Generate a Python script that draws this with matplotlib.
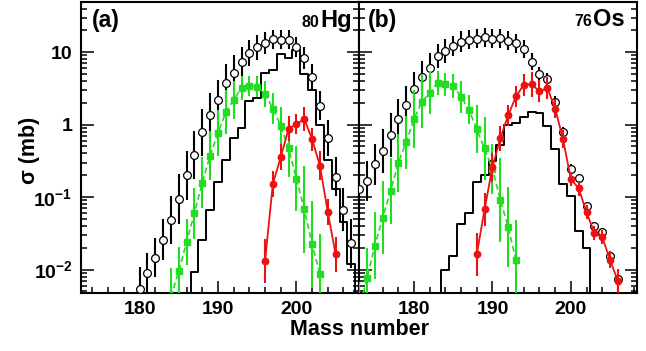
import numpy as np
import matplotlib
matplotlib.use('Agg')
import matplotlib.pyplot as plt
from matplotlib.ticker import MultipleLocator, LogLocator, NullFormatter

plt.rcParams['font.family'] = ['Liberation Sans', 'DejaVu Sans']
plt.rcParams['font.weight'] = 'bold'
plt.rcParams['mathtext.fontset'] = 'custom'
plt.rcParams['mathtext.bf'] = 'Liberation Sans:bold'
plt.rcParams['mathtext.rm'] = 'Liberation Sans:bold'

# ---- panel (a): 80Hg ----
hg_circ_mass = np.arange(180, 208)
hg_circ = [0.0054, 0.0089, 0.0146, 0.026, 0.048, 0.094, 0.20, 0.385, 0.78, 1.35,
           2.2, 3.75, 5.2, 7.4, 9.6, 11.6, 13.5, 15.0, 14.8, 14.8,
           11.8, 8.3, 4.6, 1.82, 0.66, 0.19, 0.067, 0.023]
hg_circ_err = [0.30, 0.28, 0.27, 0.28, 0.33, 0.34, 0.34, 0.33, 0.33, 0.31,
               0.27, 0.26, 0.25, 0.20, 0.18, 0.17, 0.15, 0.13, 0.13, 0.13,
               0.14, 0.15, 0.17, 0.20, 0.25, 0.27, 0.30, 0.34]

hg_green_mass = np.arange(184, 204)
hg_green = [0.0042, 0.0095, 0.024, 0.060, 0.158, 0.375, 0.76, 1.5, 2.2, 3.2,
            3.4, 3.35, 2.65, 1.66, 0.96, 0.47, 0.18, 0.068, 0.0225, 0.0086]
hg_green_err = [0.40, 0.33, 0.32, 0.35, 0.35, 0.34, 0.32, 0.30, 0.26, 0.16,
                0.14, 0.14, 0.18, 0.21, 0.26, 0.40, 0.45, 0.60, 0.60, 0.55]

hg_red_mass = np.arange(196, 206)
hg_red = [0.0131, 0.153, 0.355, 0.88, 1.01, 1.2, 0.63, 0.27, 0.062, 0.0162]
hg_red_err = [0.30, 0.18, 0.18, 0.17, 0.14, 0.17, 0.16, 0.20, 0.18, 0.24]

hg_hist_bins = np.arange(186, 209)
hg_hist = [0, 0.0094, 0.0255, 0.066, 0.16, 0.33, 0.65, 0.89, 2.1, 2.3,
           5.2, 5.6, 9.5, 8.4, 10.8, 5.0, 3.0, 1.0, 0.33, 0.13,
           0.046, 0.012, 0]

# ---- panel (b): 76Os ----
os_circ_mass = np.arange(173, 207)
os_circ = [0.128, 0.167, 0.284, 0.434, 0.72, 1.2, 1.89, 3.1, 4.5, 6.1,
           8.9, 10.4, 12.2, 14.0, 14.8, 15.3, 16.1, 15.3, 15.6, 14.3,
           13.3, 11.0, 7.4, 5.0, 4.2, 2.06, 0.78, 0.245, 0.182, 0.075,
           0.040, 0.033, 0.0154, 0.0075]
os_circ_err = [0.22, 0.28, 0.28, 0.30, 0.30, 0.28, 0.25, 0.23, 0.23, 0.21,
               0.17, 0.16, 0.14, 0.14, 0.13, 0.13, 0.13, 0.13, 0.13, 0.13,
               0.13, 0.12, 0.12, 0.10, 0.09, 0.08, 0.07, 0.07, 0.06, 0.06,
               0.06, 0.06, 0.07, 0.08]

os_green_mass = np.arange(173, 194)
os_green = [0.0027, 0.0076, 0.0214, 0.052, 0.121, 0.30, 0.57, 1.2, 2.08, 2.7,
            3.75, 3.62, 3.42, 2.44, 1.6, 0.86, 0.47, 0.244, 0.092, 0.039, 0.0135]
os_green_err = [0.40, 0.42, 0.46, 0.50, 0.46, 0.40, 0.37, 0.40, 0.37, 0.29,
                0.17, 0.16, 0.17, 0.22, 0.20, 0.33, 0.44, 0.35, 0.58, 0.55, 0.55]

os_red_mass = np.arange(188, 207)
os_red = [0.0162, 0.068, 0.26, 0.65, 1.34, 2.45, 3.55, 3.6, 2.88, 3.2,
          1.67, 0.63, 0.178, 0.132, 0.062, 0.032, 0.028, 0.0137, 0.0069]
os_red_err = [0.30, 0.23, 0.20, 0.17, 0.15, 0.15, 0.15, 0.17, 0.15, 0.15,
              0.13, 0.12, 0.10, 0.10, 0.10, 0.10, 0.10, 0.12, 0.17]

os_hist_bins = np.arange(183, 204)
os_hist = [0, 0.0098, 0.0155, 0.043, 0.061, 0.16, 0.205, 0.32, 0.52, 0.98,
           1.07, 1.29, 1.5, 1.47, 0.96, 0.46, 0.153, 0.102, 0.034, 0.0196, 0]

GREEN = '#22dd22'
RED = '#ee1111'


def dex_err(v, d):
    v = np.asarray(v, float)
    d = np.asarray(d, float)
    return [v - v / 10**d, v * 10**d - v]


def draw_panel(ax, circ_m, circ, circ_e, gr_m, gr, gr_e, rd_m, rd, rd_e, h_bins, h, xlim):
    # histogram (black steps)
    h = np.asarray(h, float)
    h = np.where(h > 0, h, 1e-6)
    edges = np.append(h_bins - 0.5, h_bins[-1] + 0.5)
    ax.step(edges, np.append(h, h[-1]), where='post', color='k', lw=1.4, zorder=2)

    # total (open circles)
    ax.errorbar(circ_m, circ, yerr=dex_err(circ, circ_e), fmt='o', ms=5.6, mfc='white',
                mec='k', mew=0.9, ecolor='k', elinewidth=1.5, capsize=0, zorder=3)
    # green squares, dashed
    ax.errorbar(gr_m, gr, yerr=dex_err(gr, gr_e), fmt='s', ls=(0, (3.5, 2)), lw=1.2,
                color=GREEN, ms=4.2, ecolor=GREEN, elinewidth=1.5, capsize=0, zorder=4)
    # red dots, solid
    ax.errorbar(rd_m, rd, yerr=dex_err(rd, rd_e), fmt='o-', lw=1.3, color=RED,
                ms=4.6, ecolor=RED, elinewidth=1.5, capsize=0, zorder=5)

    ax.set_yscale('log')
    ax.set_ylim(0.0048, 50)
    ax.set_xlim(*xlim)
    ax.xaxis.set_major_locator(MultipleLocator(10))
    ax.xaxis.set_minor_locator(MultipleLocator(2))
    ax.yaxis.set_minor_locator(LogLocator(base=10, subs=np.arange(2, 10)))
    ax.yaxis.set_minor_formatter(NullFormatter())
    ax.set_xticks([180, 190, 200])
    ax.set_xticklabels(['180', '190', '200'])
    ax.tick_params(which='both', direction='in', left=True, right=True, top=False,
                   bottom=True, width=1.1)
    ax.tick_params(which='major', length=9)
    ax.tick_params(which='minor', length=4.5)
    ax.tick_params(axis='x', labelsize=14, pad=6)
    ax.tick_params(axis='y', labelsize=14, pad=6)
    for s in ax.spines.values():
        s.set_linewidth(1.5)


fig = plt.figure(figsize=(6.46, 3.51), dpi=100)
ax1 = fig.add_axes([0.1249, 0.1661, 0.4311, 0.8296])
ax2 = fig.add_axes([0.5560, 0.1661, 0.4308, 0.8296])

draw_panel(ax1, hg_circ_mass, hg_circ, hg_circ_err, hg_green_mass, hg_green, hg_green_err,
           hg_red_mass, hg_red, hg_red_err, hg_hist_bins, hg_hist, (172.5, 208.0))
draw_panel(ax2, os_circ_mass, os_circ, os_circ_err, os_green_mass, os_green, os_green_err,
           os_red_mass, os_red, os_red_err, os_hist_bins, os_hist, (173.0, 208.5))

ax1.set_yticks([0.01, 0.1, 1, 10])
ax1.set_yticklabels([r'$\mathbf{10^{-2}}$', r'$\mathbf{10^{-1}}$', '1', '10'])
ax2.set_yticks([0.01, 0.1, 1, 10])
ax2.set_yticklabels([])

ax1.text(0.04, 0.936, '(a)', transform=ax1.transAxes, fontsize=16.5, weight='bold', va='center')
ax2.text(0.033, 0.936, '(b)', transform=ax2.transAxes, fontsize=16.5, weight='bold', va='center')

ax1.text(0.973, 0.913, 'Hg', transform=ax1.transAxes, fontsize=17, weight='bold',
         ha='right', va='baseline')
ax1.text(0.858, 0.913, '80', transform=ax1.transAxes, fontsize=11.5, weight='bold',
         ha='right', va='baseline')
ax2.text(0.955, 0.916, 'Os', transform=ax2.transAxes, fontsize=17, weight='bold',
         ha='right', va='baseline')
ax2.text(0.838, 0.916, '76', transform=ax2.transAxes, fontsize=11.5, weight='bold',
         ha='right', va='baseline')

fig.text(0.556, 0.062, 'Mass number', ha='center', va='center', fontsize=15.5, weight='bold')
fig.text(0.045, 0.573, 'σ (mb)', ha='center', va='center', rotation=90, fontsize=15.5,
         weight='bold')

fig.savefig('out.png', dpi=100)
